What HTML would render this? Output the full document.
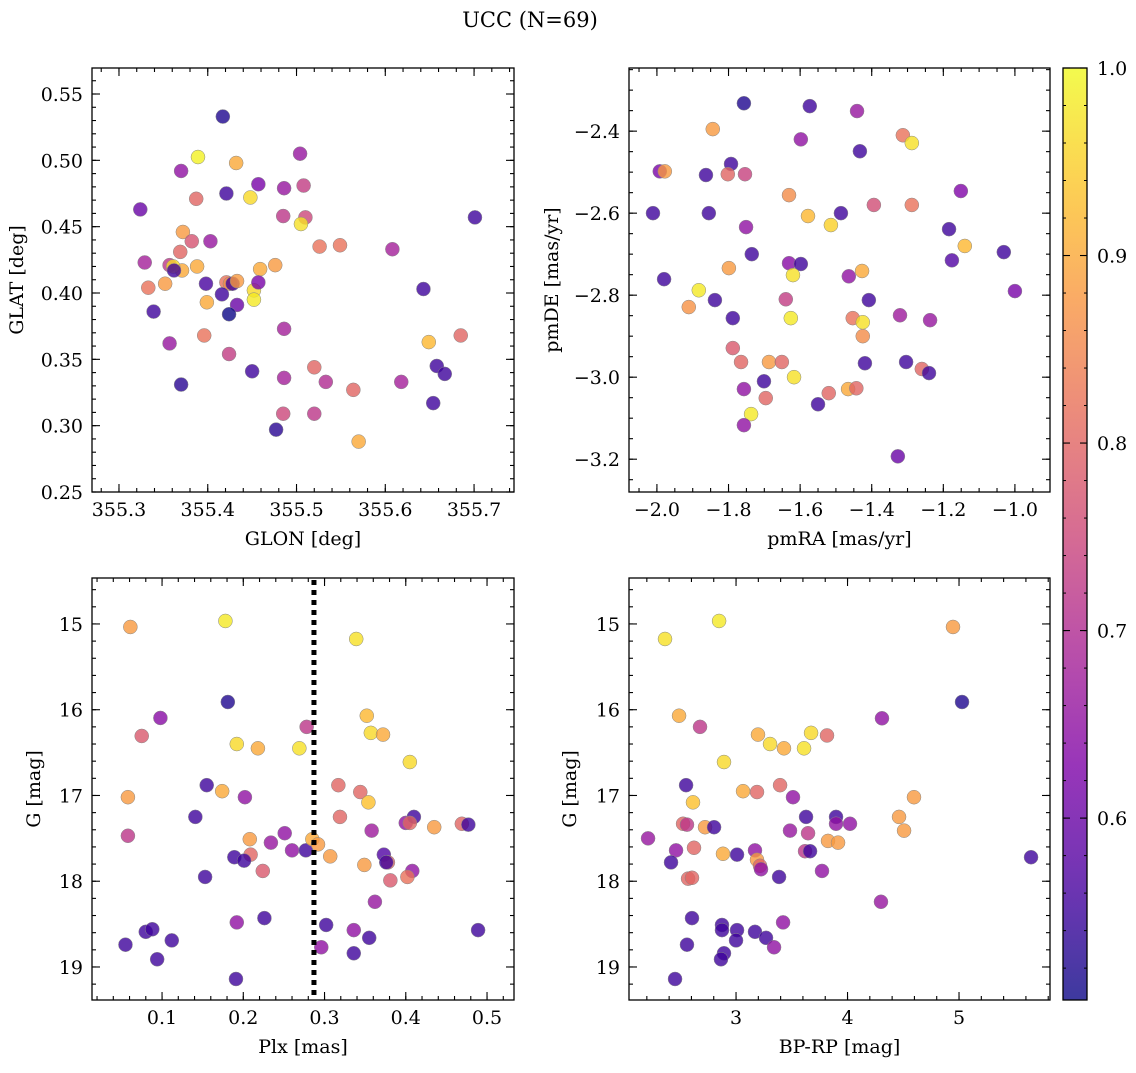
<!DOCTYPE html>
<html><head><meta charset="utf-8">
<style>
body{margin:0;background:#fff;}
svg text{font-family:"DejaVu Serif","Liberation Serif",serif;fill:#000;}
</style></head>
<body>
<svg id="fig" width="1136" height="1068" xmlns="http://www.w3.org/2000/svg">
<defs>
<linearGradient id="cbgrad" x1="0" y1="1" x2="0" y2="0"></linearGradient>
</defs>
<text x="530" y="27" font-size="21" text-anchor="middle">UCC (N=69)</text>
</svg>
<script>
const glon1 = [355.417,355.389,355.432,355.370,355.421,355.387,355.448,355.486,355.457,355.504,355.508,355.510,355.505,355.485,355.324,355.372,355.382,355.403,355.329,355.357,355.371,355.361,355.369,355.388,355.352,355.333,355.339,355.421,355.425,355.398,355.428,355.416,355.433,355.424,355.399,355.452,355.452,355.459,355.457,355.476,355.486,355.396,355.424,355.357,355.450,355.370,355.486,355.533,355.520,355.477,355.485,355.520,355.564,355.570,355.526,355.549,355.608,355.643,355.649,355.685,355.658,355.667,355.654,355.618,355.701,355.362,355.433];
const glat1 = [0.533,0.5025,0.498,0.492,0.475,0.471,0.472,0.479,0.482,0.505,0.481,0.457,0.452,0.458,0.463,0.446,0.439,0.439,0.423,0.421,0.417,0.420,0.431,0.420,0.407,0.404,0.386,0.408,0.407,0.407,0.407,0.399,0.391,0.384,0.393,0.402,0.395,0.418,0.408,0.421,0.373,0.368,0.354,0.362,0.341,0.331,0.336,0.333,0.344,0.297,0.309,0.309,0.327,0.288,0.435,0.436,0.433,0.403,0.363,0.368,0.345,0.339,0.317,0.333,0.457,0.417,0.409];
const prob1 = [.52,.99,.9,.65,.55,.8,.96,.66,.62,.66,.73,.75,.97,.72,.6,.88,.77,.66,.68,.72,.9,.96,.8,.9,.88,.82,.55,.82,.86,.56,.55,.55,.6,.5,.9,.96,.98,.9,.62,.88,.68,.82,.73,.66,.55,.53,.68,.7,.8,.53,.75,.72,.8,.9,.82,.82,.68,.55,.92,.8,.55,.55,.55,.68,.55,.55,.88];

const pmra2 = [-1.757,-1.573,-1.441,-1.313,-1.288,-1.433,-1.844,-1.598,-1.793,-1.992,-1.978,-1.863,-1.802,-1.754,-2.011,-1.855,-1.631,-1.578,-1.514,-1.486,-1.394,-1.288,-1.151,-1.184,-1.031,-1.140,-1.000,-1.176,-1.751,-1.735,-1.799,-1.631,-1.598,-1.620,-1.464,-1.427,-1.980,-1.883,-1.838,-1.640,-1.408,-1.911,-1.788,-1.626,-1.453,-1.425,-1.321,-1.237,-1.425,-1.788,-1.765,-1.687,-1.651,-1.757,-1.696,-1.701,-1.617,-1.419,-1.304,-1.260,-1.240,-1.466,-1.443,-1.520,-1.550,-1.737,-1.757,-1.327];
const pmde2 = [-2.332,-2.339,-2.351,-2.410,-2.429,-2.449,-2.395,-2.420,-2.480,-2.498,-2.498,-2.507,-2.505,-2.505,-2.600,-2.600,-2.556,-2.607,-2.629,-2.600,-2.580,-2.580,-2.546,-2.639,-2.695,-2.680,-2.790,-2.715,-2.634,-2.700,-2.734,-2.722,-2.724,-2.751,-2.754,-2.741,-2.761,-2.788,-2.812,-2.810,-2.812,-2.829,-2.856,-2.856,-2.856,-2.866,-2.849,-2.861,-2.900,-2.929,-2.963,-2.963,-2.963,-3.029,-3.051,-3.010,-3.000,-2.966,-2.963,-2.980,-2.990,-3.029,-3.027,-3.039,-3.066,-3.090,-3.117,-3.193];
const prob2 = [.52,.55,.66,.82,.97,.55,.88,.65,.55,.62,.88,.55,.8,.74,.55,.55,.86,.92,.95,.55,.76,.82,.63,.55,.55,.92,.62,.57,.65,.55,.88,.64,.55,.97,.65,.9,.55,.98,.55,.73,.55,.87,.55,.98,.82,.97,.67,.66,.86,.78,.8,.88,.8,.65,.8,.55,.97,.55,.55,.8,.55,.9,.8,.8,.55,.98,.65,.6];

const plx3 = [0.061,0.178,0.339,0.181,0.098,0.075,0.278,0.192,0.218,0.269,0.352,0.357,0.372,0.405,0.058,0.174,0.155,0.202,0.317,0.344,0.354,0.058,0.141,0.208,0.234,0.251,0.209,0.224,0.260,0.277,0.285,0.292,0.307,0.319,0.358,0.373,0.349,0.378,0.376,0.400,0.410,0.405,0.435,0.469,0.477,0.408,0.402,0.381,0.362,0.189,0.201,0.153,0.226,0.192,0.055,0.080,0.088,0.094,0.112,0.302,0.336,0.355,0.336,0.296,0.489,0.191];
const g3 = [15.035,14.965,15.175,15.91,16.096,16.306,16.20,16.40,16.45,16.45,16.07,16.27,16.29,16.61,17.02,16.95,16.88,17.02,16.88,16.96,17.08,17.47,17.25,17.51,17.55,17.44,17.69,17.88,17.64,17.64,17.51,17.57,17.71,17.25,17.41,17.69,17.81,17.78,17.78,17.32,17.25,17.32,17.37,17.33,17.34,17.88,17.95,17.99,18.24,17.72,17.76,17.95,18.43,18.48,18.74,18.59,18.56,18.91,18.69,18.51,18.57,18.66,18.84,18.77,18.57,19.14];
const prob3 = [.88,.98,.97,.52,.64,.78,.72,.96,.9,.97,.92,.96,.9,.96,.88,.9,.55,.65,.8,.8,.93,.72,.55,.88,.66,.65,.8,.78,.65,.55,.9,.88,.88,.8,.67,.57,.88,.8,.55,.65,.55,.8,.88,.8,.55,.65,.82,.78,.66,.55,.55,.55,.55,.65,.55,.55,.55,.55,.55,.55,.65,.55,.55,.65,.55,.55];
const plxLine = 0.287;

const bprp4 = [2.363,2.848,4.946,5.027,2.489,2.677,3.197,3.305,3.430,3.610,3.673,2.892,4.309,3.816,2.552,3.188,3.063,3.395,2.614,3.511,4.596,2.211,2.525,2.560,2.722,2.803,2.462,2.623,3.170,3.009,2.883,3.484,3.628,3.646,3.897,4.022,3.897,3.825,3.915,4.462,4.507,2.417,2.570,2.605,3.188,3.215,3.224,3.619,3.664,3.771,3.386,4.300,2.605,3.422,2.874,2.874,3.009,3.170,3.269,3.341,3.000,2.560,2.892,2.865,2.453,5.646];
const g4 = [15.175,14.965,15.035,15.91,16.07,16.20,16.29,16.40,16.45,16.45,16.27,16.61,16.10,16.30,16.88,16.96,16.95,16.88,17.08,17.02,17.02,17.50,17.33,17.34,17.37,17.37,17.64,17.61,17.64,17.69,17.68,17.41,17.25,17.44,17.25,17.33,17.33,17.53,17.55,17.25,17.41,17.78,17.97,17.96,17.75,17.82,17.86,17.65,17.65,17.88,17.95,18.24,18.43,18.48,18.51,18.57,18.57,18.59,18.66,18.77,18.69,18.74,18.84,18.91,19.14,17.72];
const prob4 = [.97,.98,.88,.52,.9,.72,.9,.96,.9,.97,.96,.96,.65,.8,.55,.8,.9,.8,.93,.65,.88,.66,.8,.72,.88,.55,.65,.8,.65,.55,.9,.66,.55,.72,.55,.65,.65,.88,.88,.88,.88,.55,.8,.8,.88,.8,.65,.72,.55,.65,.55,.66,.55,.65,.55,.55,.55,.55,.55,.65,.55,.55,.55,.55,.55,.55];

const cbTicks = [0.6,0.7,0.8,0.9,1.0];
const cbMin = 0.503, cbMax = 1.0;

const NS = 'http://www.w3.org/2000/svg';
const svg = document.getElementById('fig');
const FS = 19;
function mk(tag, attrs, parent){
  const e = document.createElementNS(NS, tag);
  for (const k in attrs) e.setAttribute(k, attrs[k]);
  (parent||svg).appendChild(e);
  return e;
}
const stops = [[0,[13,8,135]],[.125,[76,2,161]],[.25,[126,3,168]],[.375,[169,35,149]],[.5,[204,71,120]],[.625,[230,108,92]],[.75,[248,149,64]],[.875,[253,197,39]],[1,[240,249,33]]];
function plasma(t){
  t=Math.max(0,Math.min(1,t));
  for(let i=1;i<stops.length;i++){
    if(t<=stops[i][0]){
      const a=stops[i-1],b=stops[i],f=(t-a[0])/(b[0]-a[0]);
      const c=a[1].map((v,j)=>Math.round(v+(b[1][j]-v)*f));
      return 'rgb('+c.join(',')+')';
    }
  }
  return 'rgb(240,249,33)';
}
function col(p){return plasma((p-cbMin)/(cbMax-cbMin));}

function panel(cfg){
  const {x0,y0,w,h,xmin,xmax,ymin,ymax,yinv,xt,xminor,yt,yminor,xfmt,yfmt,xlabel,ylabel,name} = cfg;
  const sx = v => x0 + (v-xmin)/(xmax-xmin)*w;
  const sy = yinv ? (v => y0 + (v-ymin)/(ymax-ymin)*h) : (v => y0 + h - (v-ymin)/(ymax-ymin)*h);
  const g = mk('g',{});
  
  
  const pts = mk('g',{},g);
  
  
  const n = Math.min(cfg.xs.length, cfg.ys.length, cfg.ps.length);
  for(let i=0;i<n;i++){
    const c = mk('circle',{cx:sx(cfg.xs[i]),cy:sy(cfg.ys[i]),r:7,fill:col(cfg.ps[i]),'fill-opacity':0.8,stroke:'#888','stroke-width':0.5},pts);
    
    
  }
  if (cfg.extra) cfg.extra(g, sx, sy);
  const fr = mk('rect',{x:x0,y:y0,width:w,height:h,fill:'none',stroke:'#000','stroke-width':1.3},g);
  
  
  const tg = mk('g',{stroke:'#000','stroke-width':1.1},g);
  
  
  const lo=Math.min(xmin,xmax), hi=Math.max(xmin,xmax);
  for(let v=Math.ceil(lo/xminor-1e-6)*xminor; v<=hi+1e-9; v+=xminor){
    const X=sx(v);
    mk('line',{x1:X,y1:y0+h,x2:X,y2:y0+h-4},tg); mk('line',{x1:X,y1:y0,x2:X,y2:y0+4},tg);
  }
  const ylo=Math.min(ymin,ymax), yhi=Math.max(ymin,ymax);
  for(let v=Math.ceil(ylo/yminor-1e-6)*yminor; v<=yhi+1e-9; v+=yminor){
    const Y=sy(v);
    mk('line',{x1:x0,y1:Y,x2:x0+4,y2:Y},tg); mk('line',{x1:x0+w,y1:Y,x2:x0+w-4,y2:Y},tg);
  }
  xt.forEach(v=>{
    const X=sx(v);
    mk('line',{x1:X,y1:y0+h,x2:X,y2:y0+h-8},tg); mk('line',{x1:X,y1:y0,x2:X,y2:y0+8},tg);
    const t=mk('text',{x:X,y:y0+h+24,'font-size':FS,'text-anchor':'middle'},g);
    t.textContent=xfmt(v);
    
    
  });
  yt.forEach(v=>{
    const Y=sy(v);
    mk('line',{x1:x0,y1:Y,x2:x0+8,y2:Y},tg); mk('line',{x1:x0+w,y1:Y,x2:x0+w-8,y2:Y},tg);
    const t=mk('text',{x:x0-9,y:Y+7,'font-size':FS,'text-anchor':'end'},g);
    t.textContent=yfmt(v);
    
    
  });
  const xl=mk('text',{x:x0+w/2,y:y0+h+53,'font-size':FS,'text-anchor':'middle'},g);
  xl.textContent=xlabel;
  
  
  const yx = cfg.ylx, yc=y0+h/2;
  const yl=mk('text',{x:yx,y:yc,'font-size':FS,'text-anchor':'middle',transform:'rotate(-90 '+yx+' '+yc+')'},g);
  yl.textContent=ylabel;
  
  
}
const minus = s => s.replace('-','\u2212');
panel({name:'glon-glat-panel',x0:92,y0:68,w:422,h:424,xmin:355.2696,xmax:355.745,ymin:0.25,ymax:0.5696,
  xt:[355.3,355.4,355.5,355.6,355.7],xminor:0.02,yt:[0.25,0.30,0.35,0.40,0.45,0.50,0.55],yminor:0.01,
  xfmt:v=>v.toFixed(1),yfmt:v=>v.toFixed(2),xlabel:'GLON [deg]',ylabel:'GLAT [deg]',ylx:23,
  xs:glon1,ys:glat1,ps:prob1});
panel({name:'proper-motion-panel',x0:629,y0:68,w:421,h:424,xmin:-2.078,xmax:-0.902,ymin:-3.280,ymax:-2.246,
  xt:[-2.0,-1.8,-1.6,-1.4,-1.2,-1.0],xminor:0.05,yt:[-3.2,-3.0,-2.8,-2.6,-2.4],yminor:0.05,
  xfmt:v=>minus(v.toFixed(1)),yfmt:v=>minus(v.toFixed(1)),xlabel:'pmRA [mas/yr]',ylabel:'pmDE [mas/yr]',ylx:558,
  xs:pmra2,ys:pmde2,ps:prob2});
panel({name:'plx-g-panel',x0:92,y0:578,w:422,h:422,xmin:0.0138,xmax:0.5332,ymin:14.464,ymax:19.385,yinv:true,
  xt:[0.1,0.2,0.3,0.4,0.5],xminor:0.02,yt:[15,16,17,18,19],yminor:0.2,
  xfmt:v=>v.toFixed(1),yfmt:v=>String(v),xlabel:'Plx [mas]',ylabel:'G [mag]',ylx:40,
  xs:plx3,ys:g3,ps:prob3,
  extra:(g,sx,sy)=>{
    const l=mk('line',{x1:sx(plxLine),y1:580,x2:sx(plxLine),y2:998,stroke:'#000','stroke-width':5,'stroke-dasharray':'5 5'},g);
    
    
  }});
panel({name:'cmd-panel',x0:629,y0:578,w:421,h:422,xmin:2.040,xmax:5.816,ymin:14.464,ymax:19.385,yinv:true,
  xt:[3,4,5],xminor:0.2,yt:[15,16,17,18,19],yminor:0.2,
  xfmt:v=>String(v),yfmt:v=>String(v),xlabel:'BP-RP [mag]',ylabel:'G [mag]',ylx:576,
  xs:bprp4,ys:g4,ps:prob4});

const grad=document.getElementById('cbgrad');
for(let i=0;i<=20;i++){
  const t=i/20;
  mk('stop',{offset:t,'stop-color':plasma(t),'stop-opacity':0.8},grad);
}
const cbg=mk('g',{});


const cx0=1063,cy0=68,cw=24,ch=932;
mk('rect',{x:cx0,y:cy0,width:cw,height:ch,fill:'url(#cbgrad)'},cbg);
mk('rect',{x:cx0,y:cy0,width:cw,height:ch,fill:'none',stroke:'#000','stroke-width':1.3},cbg);
const cy = v => cy0+ch-(v-cbMin)/(cbMax-cbMin)*ch;
for(let v=0.52; v<=1.0001; v+=0.02){
  mk('line',{x1:cx0,y1:cy(v),x2:cx0+3,y2:cy(v),stroke:'#000','stroke-width':1},cbg);
  mk('line',{x1:cx0+cw,y1:cy(v),x2:cx0+cw-3,y2:cy(v),stroke:'#000','stroke-width':1},cbg);
}
cbTicks.forEach(v=>{
  mk('line',{x1:cx0,y1:cy(v),x2:cx0+7,y2:cy(v),stroke:'#000','stroke-width':1.1},cbg);
  mk('line',{x1:cx0+cw,y1:cy(v),x2:cx0+cw-7,y2:cy(v),stroke:'#000','stroke-width':1.1},cbg);
  const t=mk('text',{x:cx0+cw+10,y:cy(v)+7,'font-size':FS},cbg);
  t.textContent=v.toFixed(1);
  
  
});
</script>
</body></html>
